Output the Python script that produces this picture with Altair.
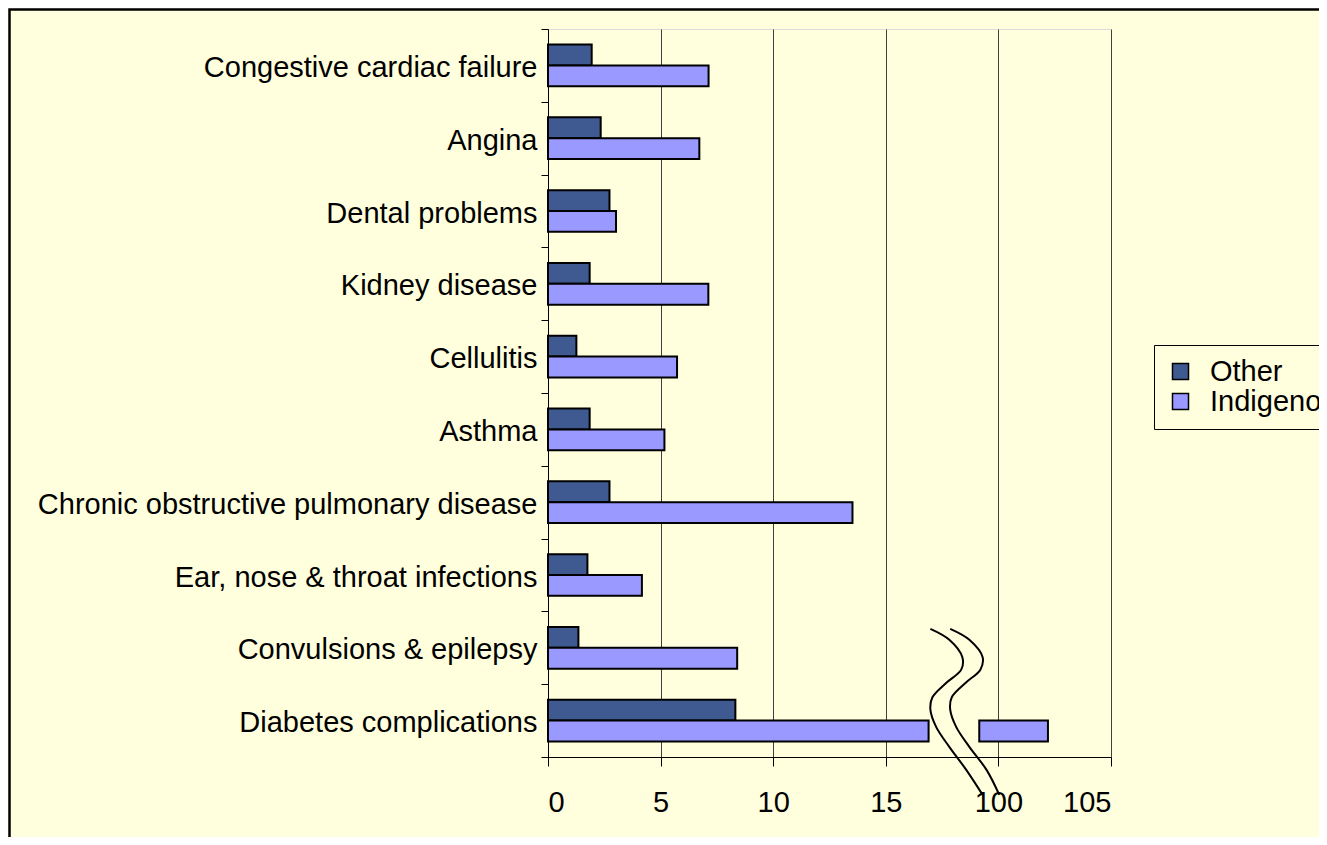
import altair as alt
import pandas as pd

# ---------------- data ----------------
categories = [
    "Congestive cardiac failure",
    "Angina",
    "Dental problems\u00a0",
    "Kidney disease",
    "Cellulitis",
    "Asthma",
    "Chronic obstructive pulmonary disease",
    "Ear, nose & throat infections",
    "Convulsions & epilepsy",
    "Diabetes complications",
]
series = ["Other", "Indigenous"]
other_vals = [1.94, 2.34, 2.73, 1.85, 1.26, 1.85, 2.73, 1.75, 1.35, 8.32]
indigenous_vals = [7.13, 6.72, 3.02, 7.12, 5.73, 5.17, 13.52, 4.17, 8.40, 102.2]
series_colors = ["#3F5A90", "#9999FF"]

# broken axis: ticks drawn at positions, labelled with these texts
tick_positions = [0, 5, 10, 15, 20, 25]
tick_labels = ["0", "5", "10", "15", "100", "105"]
break_shift = 80          # values >= 100 are drawn at value - 80
bar_cut_end = 16.9        # where a broken bar stops before the break
bar_resume = 19.15        # where it starts again after the break

# break symbol (two wavy lines), x in axis units, y as fraction of plot height
break_f = [0.176, 0.161, 0.137, 0.120, 0.102, 0.082, 0.065, 0.041, 0.014, -0.018, -0.052]
break_left = [16.98, 17.82, 18.40, 18.35, 17.69, 17.07, 16.98, 17.24, 17.82, 18.58, 19.30]
break_right = [17.86, 18.71, 19.30, 19.20, 18.55, 17.93, 17.86, 18.13, 18.71, 19.48, 20.04]

BG = "#FFFFDD"
FONT = "Liberation Sans"

# ---------------- tables ----------------
rows = []
for cat, o, ind in zip(categories, other_vals, indigenous_vals):
    for s, v in (("Other", o), ("Indigenous", ind)):
        if v >= 100:
            rows.append(dict(category=cat, series=s, start=0, end=bar_cut_end, value=v))
            rows.append(dict(category=cat, series=s, start=bar_resume, end=v - break_shift, value=v))
        else:
            rows.append(dict(category=cat, series=s, start=0, end=v, value=v))
bar_df = pd.DataFrame(rows)

crows = []
for name, xs in (("left", break_left), ("right", break_right)):
    for i, (xv, fv) in enumerate(zip(xs, break_f)):
        crows.append(dict(curve=name, idx=i, u=xv, f=fv))
curve_df = pd.DataFrame(crows)

label_expr = " : ".join(
    f"datum.value == {p} ? '{t}'" for p, t in zip(tick_positions, tick_labels)
) + " : datum.label"

# ---------------- chart ----------------
W, H = 563, 728
PAD = {"left": 540, "top": 21, "right": 208, "bottom": 80}

border = alt.Chart(pd.DataFrame({"k": [0]})).mark_rect(
    fillOpacity=0, stroke="black", strokeWidth=2.5
).encode(
    x=alt.value(-538.5), x2=alt.value(W + 300),
    y=alt.value(-19.5), y2=alt.value(H + 200),
)

bars = alt.Chart(bar_df).mark_bar(stroke="black", strokeWidth=2).encode(
    x=alt.X(
        "start:Q",
        scale=alt.Scale(domain=[0, 25], nice=False, zero=True),
        axis=alt.Axis(
            values=tick_positions, labelExpr=label_expr, title=None,
            grid=True, gridColor="#404040", gridWidth=1,
            domainColor="black", tickColor="black", tickSize=9,
            labelFontSize=29, labelColor="black", labelPadding=22,
            labelFont=FONT,
        ),
    ),
    x2="end:Q",
    y=alt.Y(
        "category:N", sort=categories,
        scale=alt.Scale(paddingInner=0, paddingOuter=0),
        axis=alt.Axis(
            title=None, tickBand="extent", tickSize=7, tickColor="black",
            domainColor="black", labelFontSize=29, labelColor="black",
            labelPadding=4, labelLimit=0, grid=False, labelFont=FONT,
            labelOffset=2,
        ),
    ),
    yOffset=alt.YOffset(
        "series:N", sort=series,
        scale=alt.Scale(paddingInner=0, paddingOuter=0.745),
    ),
    color=alt.Color(
        "series:N", sort=series,
        scale=alt.Scale(domain=series, range=series_colors),
        legend=alt.Legend(
            title=None, orient="none", legendX=606, legendY=316,
            strokeColor="black", fillColor=BG, padding=12,
            symbolType="square", symbolSize=256, symbolStrokeColor="black",
            symbolStrokeWidth=1.5, labelFontSize=29, labelColor="black",
            labelFont=FONT, labelOffset=15, rowPadding=0,
        ),
    ),
)

curves = alt.Chart(curve_df).mark_line(
    color="black", strokeWidth=2, interpolate="catmull-rom"
).encode(
    x=alt.X("u:Q"),
    y=alt.Y("f:Q", scale=alt.Scale(domain=[0, 1], nice=False), axis=None),
    detail="curve:N",
    order="idx:Q",
)

chart = alt.layer(border, bars, curves).resolve_scale(y="independent").properties(
    width=W, height=H, padding=PAD,
    autosize=alt.AutoSizeParams(type="none"),
    background=BG,
).configure_view(stroke="transparent").configure(font=FONT)

chart.save("out.html", embed_options={"renderer": "svg", "actions": False})
